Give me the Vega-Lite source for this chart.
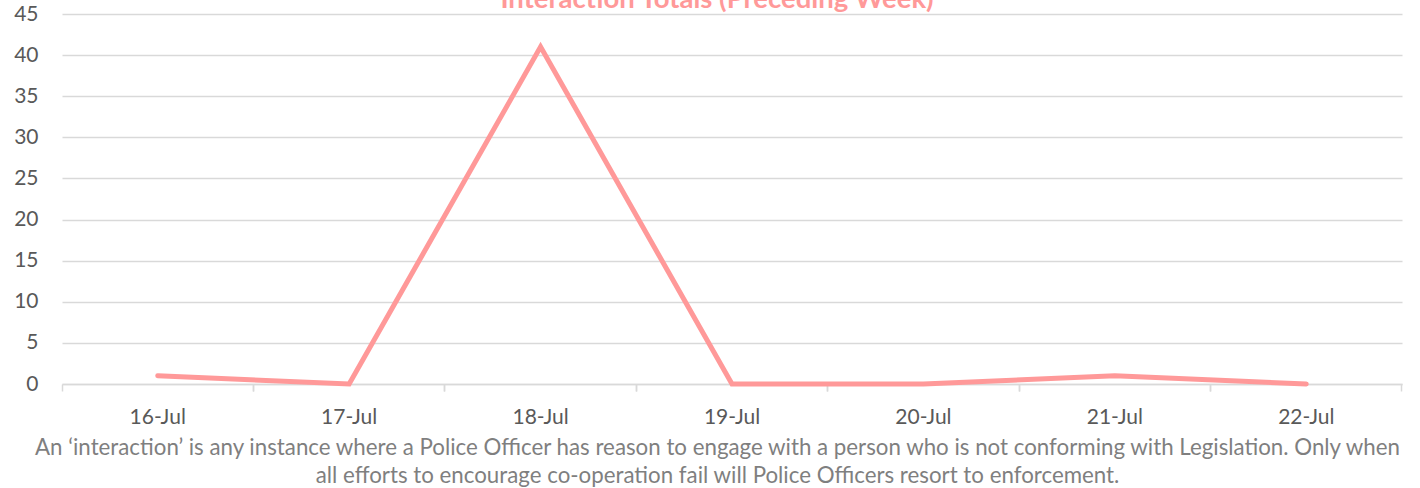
{
  "$schema": "https://vega.github.io/schema/vega-lite/v6.json",
  "width": 1340,
  "height": 370,
  "autosize": {"type": "none"},
  "padding": {"left": 62, "top": 14, "right": 18, "bottom": 104},
  "background": "white",
  "config": {"view": {"stroke": null}, "font": "Lato"},
  "title": {
    "text": "Interaction Totals (Preceding Week)",
    "fontSize": 27.5,
    "fontWeight": "bold",
    "color": "#FF9999",
    "font": "Lato",
    "anchor": "middle",
    "dx": -15,
    "offset": -32,
    "baseline": "alphabetic"
  },
  "data": {
    "values": [
      {"date": "16-Jul", "count": 1},
      {"date": "17-Jul", "count": 0},
      {"date": "18-Jul", "count": 41},
      {"date": "19-Jul", "count": 0},
      {"date": "20-Jul", "count": 0},
      {"date": "21-Jul", "count": 1},
      {"date": "22-Jul", "count": 0}
    ]
  },
  "resolve": {"axis": {"x": "independent"}},
  "layer": [
    {
      "mark": {"type": "line", "strokeOpacity": 0},
      "encoding": {
        "x": {
          "field": "date", "type": "ordinal", "sort": null, "bandPosition": 0.5,
          "scale": {"type": "band", "paddingInner": 0, "paddingOuter": 0},
          "axis": {"orient": "bottom", "bandPosition": 0, "labels": false, "title": null, "domain": true, "domainColor": "#D9D9D9", "domainWidth": 1.5, "ticks": true, "tickSize": 7, "tickColor": "#D9D9D9", "tickWidth": 1.5, "grid": false}
        },
        "y": {
          "field": "count", "type": "quantitative",
          "scale": {"domain": [0, 45]},
          "axis": {
            "title": null, "values": [0, 5, 10, 15, 20, 25, 30, 35, 40, 45],
            "domain": false, "ticks": false, "labelPadding": 24,
            "labelFontSize": 21, "labelColor": "#595959", "labelFont": "Lato",
            "grid": true, "gridColor": "#D9D9D9", "gridWidth": 1.5
          }
        }
      }
    },
    {
      "mark": {"type": "line", "strokeOpacity": 0},
      "encoding": {
        "x": {
          "field": "date", "type": "ordinal", "sort": null, "bandPosition": 0.5,
          "scale": {"type": "band", "paddingInner": 0, "paddingOuter": 0},
          "axis": {"orient": "bottom", "bandPosition": 1, "labels": false, "title": null, "domain": false, "ticks": true, "tickSize": 7, "tickColor": "#D9D9D9", "tickWidth": 1.5, "grid": false}
        },
        "y": {"field": "count", "type": "quantitative"}
      }
    },
    {
      "mark": {"type": "line", "color": "#FF9999", "strokeWidth": 5, "strokeJoin": "miter", "strokeCap": "round"},
      "encoding": {
        "x": {
          "field": "date", "type": "ordinal", "sort": null, "bandPosition": 0.5,
          "scale": {"type": "band", "paddingInner": 0, "paddingOuter": 0},
          "axis": {
            "orient": "bottom", "bandPosition": 0.5, "domain": false, "ticks": false, "grid": false,
            "labelAngle": 0, "labelFontSize": 21, "labelColor": "#595959", "labelPadding": 22, "labelFont": "Lato",
            "title": ["An ‘interaction’ is any instance where a Police Officer has reason to engage with a person who is not conforming with Legislation. Only when", "all efforts to encourage co-operation fail will Police Officers resort to enforcement."],
            "titleFontSize": 22.3, "titleFontWeight": "normal", "titleColor": "#7F7F7F", "titleFont": "Lato",
            "titleX": 655, "titleAlign": "center", "titlePadding": 9, "titleLineHeight": 28
          }
        },
        "y": {"field": "count", "type": "quantitative"}
      }
    }
  ]
}
